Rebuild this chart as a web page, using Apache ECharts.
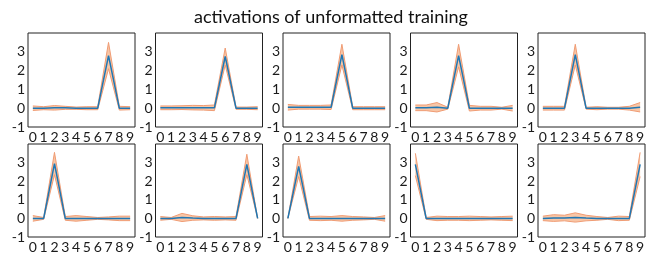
<!DOCTYPE html>
<html>
<head>
<meta charset="utf-8">
<script src="https://cdn.jsdelivr.net/npm/echarts@6/dist/echarts.min.js"></script>
<style>
  html, body { margin: 0; padding: 0; background: #fff; }
  #chart { width: 662px; height: 254px; }
</style>
</head>
<body>
<div id="chart"></div>
<script>
// x positions (one per output unit) and y tick labels
var units = [0, 1, 2, 3, 4, 5, 6, 7, 8, 9];
var yTicks = [-1, 0, 1, 2, 3];

// mean activation per panel
var mean0 = [0.0, 0.0, 0.02, 0.02, 0.0, 0.0, 0.0, 2.8, 0.0, 0.0];
var mean1 = [0.02, 0.02, 0.03, 0.03, 0.02, 0.02, 2.75, 0.0, 0.0, 0.0];
var mean2 = [0.05, 0.05, 0.05, 0.05, 0.05, 2.85, 0.0, 0.0, 0.0, 0.0];
var mean3 = [0.02, 0.02, 0.05, 0.0, 2.8, 0.0, 0.0, 0.0, 0.0, 0.0];
var mean4 = [0.0, 0.0, 0.0, 2.85, 0.0, 0.0, 0.0, 0.0, 0.0, 0.05];
var mean5 = [0.0, 0.0, 2.95, 0.0, 0.0, 0.0, 0.0, 0.0, 0.0, 0.0];
var mean6 = [0.0, 0.0, 0.05, 0.02, 0.0, 0.0, 0.0, 0.0, 2.9, 0.0];
var mean7 = [0.0, 2.8, 0.0, 0.0, 0.0, 0.0, 0.0, 0.0, 0.0, 0.0];
var mean8 = [2.9, 0.0, 0.0, 0.0, 0.0, 0.0, 0.0, 0.0, 0.0, 0.0];
var mean9 = [0.0, 0.02, 0.02, 0.05, 0.02, 0.0, 0.0, 0.0, 0.0, 2.9];

// spread (std) per panel
var std0 = [0.12, 0.08, 0.12, 0.08, 0.06, 0.08, 0.08, 0.7, 0.1, 0.08];
var std1 = [0.1, 0.1, 0.1, 0.12, 0.12, 0.15, 0.45, 0.06, 0.06, 0.08];
var std2 = [0.15, 0.1, 0.1, 0.1, 0.12, 0.55, 0.08, 0.08, 0.08, 0.08];
var std3 = [0.15, 0.15, 0.25, 0.05, 0.6, 0.15, 0.1, 0.1, 0.05, 0.15];
var std4 = [0.1, 0.1, 0.1, 0.55, 0.05, 0.08, 0.05, 0.05, 0.1, 0.25];
var std5 = [0.15, 0.05, 0.6, 0.1, 0.15, 0.1, 0.05, 0.08, 0.12, 0.12];
var std6 = [0.1, 0.05, 0.22, 0.12, 0.08, 0.1, 0.08, 0.1, 0.55, 0.0];
var std7 = [0.0, 0.55, 0.1, 0.12, 0.1, 0.15, 0.1, 0.08, 0.05, 0.15];
var std8 = [0.6, 0.05, 0.12, 0.1, 0.1, 0.12, 0.1, 0.08, 0.1, 0.12];
var std9 = [0.12, 0.18, 0.15, 0.25, 0.15, 0.1, 0.05, 0.12, 0.1, 0.65];

var means = [mean0, mean1, mean2, mean3, mean4, mean5, mean6, mean7, mean8, mean9];
var stds = [std0, std1, std2, std3, std4, std5, std6, std7, std8, std9];

var chart = echarts.init(document.getElementById('chart'));

var labelStyle = { color: '#1a1a1a', fontSize: 14, fontFamily: 'Lato' };
var edgeColor = '#f09c74', fillColor = '#f8c6a6';
var grids = [], xAxes = [], yAxes = [], series = [];

// band polygon: walk the upper edge forward, then the lower edge back
function renderBand(params, api) {
  if (params.dataIndexInside !== 0) return;
  var n = params.dataInsideLength, pts = [], k;
  for (k = 0; k < n; k++) pts.push(api.coord([api.value(0, k), api.value(2, k)]));
  for (k = n - 1; k >= 0; k--) pts.push(api.coord([api.value(0, k), api.value(1, k)]));
  return {
    type: 'polygon',
    shape: { points: pts },
    style: { fill: fillColor, stroke: null },
    clipPath: { type: 'rect', shape: params.coordSys }
  };
}

for (var i = 0; i < 10; i++) {
  var row = Math.floor(i / 5), col = i % 5;
  grids.push({
    left: 28 + col * 127.5, top: 33 + row * 111, width: 107, height: 94,
    show: true, borderColor: '#222', borderWidth: 1, backgroundColor: '#fff'
  });
  xAxes.push({
    type: 'value', gridIndex: i, min: -0.45, max: 9.45,
    axisLine: { show: false }, axisTick: { show: false }, splitLine: { show: false },
    axisLabel: Object.assign({ customValues: units, margin: 3 }, labelStyle)
  });
  yAxes.push({
    type: 'value', gridIndex: i, min: -1, max: 4,
    axisLine: { show: false }, axisTick: { show: false }, splitLine: { show: false },
    axisLabel: Object.assign({ customValues: yTicks, margin: 3 }, labelStyle)
  });

  var m = means[i], s = stds[i];
  var lower = units.map(function (x, k) { return [x, m[k] - s[k]]; });
  var upper = units.map(function (x, k) { return [x, m[k] + s[k]]; });
  var band = units.map(function (x, k) { return [x, m[k] - s[k], m[k] + s[k]]; });
  var line = units.map(function (x, k) { return [x, m[k]]; });

  series.push({
    type: 'custom', xAxisIndex: i, yAxisIndex: i, data: band, silent: true,
    renderItem: renderBand, encode: { x: 0, y: [1, 2] }, z: 1
  });
  series.push({
    type: 'line', xAxisIndex: i, yAxisIndex: i, data: lower,
    symbol: 'none', silent: true, lineStyle: { color: edgeColor, width: 1 }, z: 2
  });
  series.push({
    type: 'line', xAxisIndex: i, yAxisIndex: i, data: upper,
    symbol: 'none', silent: true, lineStyle: { color: edgeColor, width: 1 }, z: 2
  });
  series.push({
    type: 'line', xAxisIndex: i, yAxisIndex: i, data: line,
    symbol: 'none', silent: true, lineStyle: { color: '#1f77b4', width: 1.5 }, z: 3
  });
}

chart.setOption({
  animation: false,
  title: {
    text: 'activations of unformatted training', left: 'center', top: 3,
    textStyle: { fontFamily: 'Lato', fontWeight: 'normal', fontSize: 18, color: '#111' }
  },
  grid: grids,
  xAxis: xAxes,
  yAxis: yAxes,
  series: series
});
</script>
</body>
</html>
